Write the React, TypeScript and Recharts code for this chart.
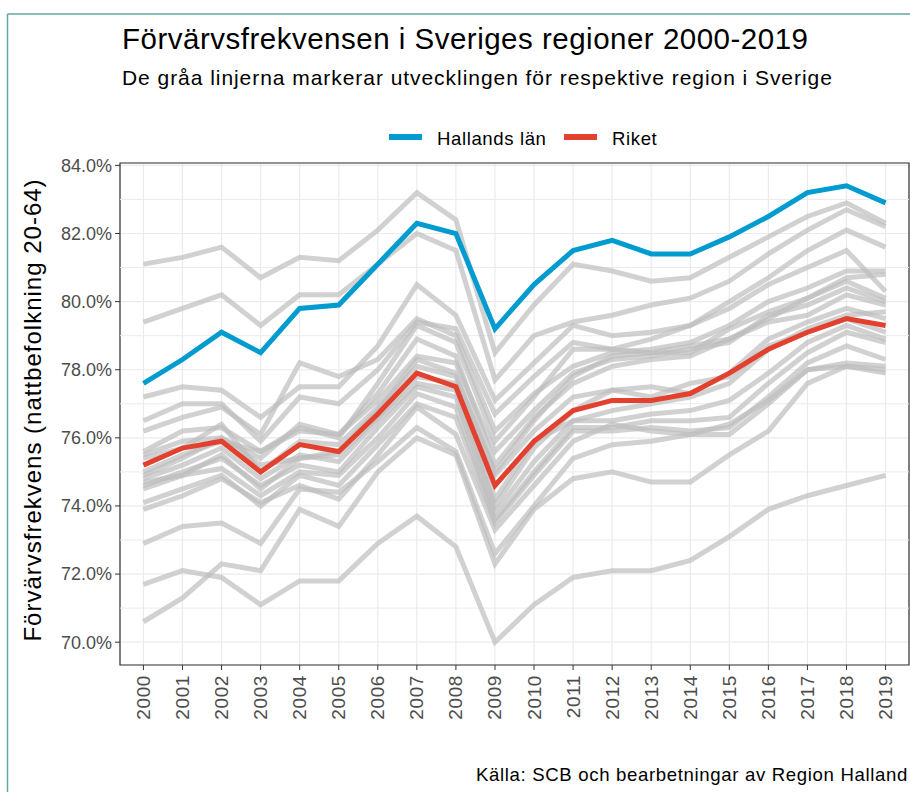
import React from "react";
import { LineChart, Line, XAxis, YAxis, CartesianGrid, ReferenceLine, ReferenceArea } from "recharts";

// ---- Data ----
const YEARS = [2000, 2001, 2002, 2003, 2004, 2005, 2006, 2007, 2008, 2009, 2010, 2011, 2012, 2013, 2014, 2015, 2016, 2017, 2018, 2019];

const HALLAND = [77.6, 78.3, 79.1, 78.5, 79.8, 79.9, 81.1, 82.3, 82.0, 79.2, 80.5, 81.5, 81.8, 81.4, 81.4, 81.9, 82.5, 83.2, 83.4, 82.9];
const RIKET = [75.2, 75.7, 75.9, 75.0, 75.8, 75.6, 76.7, 77.9, 77.5, 74.6, 75.9, 76.8, 77.1, 77.1, 77.3, 77.9, 78.6, 79.1, 79.5, 79.3];

const REGION_A = [81.1, 81.3, 81.6, 80.7, 81.3, 81.2, 82.1, 83.2, 82.4, 78.5, 79.9, 81.1, 80.9, 80.6, 80.7, 81.3, 81.9, 82.5, 82.9, 82.3];
const REGION_B = [79.4, 79.8, 80.2, 79.3, 80.2, 80.2, 81.1, 82.0, 81.5, 77.7, 79.0, 79.4, 79.6, 79.9, 80.1, 80.6, 81.4, 82.1, 82.7, 82.2];
const REGION_C = [77.2, 77.5, 77.4, 76.6, 77.5, 77.5, 78.7, 80.5, 79.6, 77.1, 78.2, 79.3, 79.0, 79.1, 79.3, 80.0, 80.7, 81.5, 82.1, 81.6];
const REGION_D = [76.5, 77.0, 77.0, 75.9, 77.2, 77.0, 78.0, 79.4, 79.2, 76.7, 77.8, 78.8, 78.6, 78.9, 79.3, 79.8, 80.5, 81.0, 81.5, 80.3];
const REGION_E = [76.2, 76.6, 76.9, 76.1, 78.2, 77.8, 78.3, 79.5, 79.0, 76.2, 77.3, 78.1, 78.5, 78.6, 78.8, 79.3, 80.0, 80.4, 80.9, 80.9];
const REGION_F = [75.6, 76.2, 76.3, 75.6, 76.3, 76.0, 77.6, 79.3, 78.8, 75.9, 77.2, 78.6, 78.6, 78.5, 78.5, 79.2, 79.7, 80.1, 80.7, 80.8];
const REGION_G = [75.5, 75.9, 76.0, 75.4, 76.4, 76.1, 77.1, 78.4, 78.2, 75.6, 76.8, 77.9, 78.3, 78.4, 78.6, 78.8, 79.6, 79.9, 80.4, 80.0];
const REGION_H = [75.4, 75.7, 76.4, 75.0, 75.9, 75.8, 76.9, 78.1, 77.8, 75.0, 76.5, 77.8, 78.4, 78.5, 78.7, 78.9, 79.4, 79.6, 80.2, 79.9];
const REGION_I = [74.9, 75.4, 76.0, 75.2, 75.4, 75.5, 76.6, 77.8, 77.6, 74.2, 75.9, 76.5, 76.8, 77.0, 77.2, 77.6, 78.6, 79.2, 79.6, 79.7];
const REGION_J = [74.8, 75.2, 75.7, 74.8, 75.5, 75.3, 76.5, 77.6, 77.4, 74.0, 75.7, 76.8, 77.4, 77.2, 77.6, 77.8, 78.7, 79.1, 79.5, 79.1];
const REGION_K = [74.6, 75.0, 75.4, 74.6, 75.2, 75.0, 76.3, 77.5, 77.2, 73.8, 75.3, 76.5, 76.5, 76.7, 76.8, 77.1, 77.9, 78.8, 79.3, 78.9];
const REGION_L = [74.5, 74.9, 75.1, 74.3, 75.0, 74.9, 76.0, 77.3, 76.9, 73.6, 75.0, 76.3, 76.3, 76.5, 76.5, 76.6, 77.6, 78.5, 79.1, 78.8];
const REGION_M = [74.1, 74.5, 74.9, 74.0, 74.9, 74.6, 75.8, 77.0, 76.6, 73.5, 74.9, 76.2, 76.2, 76.3, 76.2, 76.3, 77.2, 78.2, 78.7, 78.3];
const REGION_N = [73.9, 74.3, 74.8, 74.1, 74.6, 74.2, 75.5, 76.9, 76.1, 73.3, 74.6, 75.9, 76.4, 76.2, 76.1, 76.1, 77.0, 78.0, 78.2, 78.1];
const REGION_O = [72.9, 73.4, 73.5, 72.9, 74.5, 74.4, 75.3, 76.3, 75.6, 72.6, 74.0, 75.4, 75.8, 75.9, 76.1, 76.4, 77.1, 78.0, 78.1, 78.0];
const REGION_P = [71.7, 72.1, 71.9, 71.1, 71.8, 71.8, 72.9, 73.7, 72.8, 70.0, 71.1, 71.9, 72.1, 72.1, 72.4, 73.1, 73.9, 74.3, 74.6, 74.9];
const REGION_Q = [70.6, 71.3, 72.3, 72.1, 73.9, 73.4, 75.0, 76.0, 75.5, 72.3, 73.9, 74.8, 75.0, 74.7, 74.7, 75.5, 76.2, 77.6, 78.1, 77.9];
const REGION_R = [75.0, 75.5, 75.9, 75.6, 76.2, 76.1, 77.3, 78.9, 78.4, 75.2, 76.6, 77.6, 78.1, 78.3, 78.4, 78.9, 79.5, 80.1, 80.6, 80.1];
const REGION_S = [74.7, 74.9, 75.5, 74.5, 75.4, 75.6, 76.8, 78.3, 77.9, 74.9, 76.2, 77.2, 77.4, 77.5, 77.3, 77.9, 78.9, 79.4, 79.8, 79.5];

const GRAY_REGIONS = [
  REGION_A, REGION_B, REGION_C, REGION_D, REGION_E, REGION_F, REGION_G, REGION_H, REGION_I, REGION_J,
  REGION_K, REGION_L, REGION_M, REGION_N, REGION_O, REGION_P, REGION_Q, REGION_R, REGION_S,
];

const Y_TICKS = [70, 72, 74, 76, 78, 80, 82, 84];
const Y_MINOR = [71, 73, 75, 77, 79, 81, 83];

const TITLE = "Förvärvsfrekvensen i Sveriges regioner 2000-2019";
const SUBTITLE = "De gråa linjerna markerar utvecklingen för respektive region i Sverige";
const Y_LABEL = "Förvärvsfrekvens (nattbefolkning 20-64)";
const CAPTION = "Källa: SCB och bearbetningar av Region Halland";
const LEGEND_ITEMS = [
  { name: "Hallands län", color: "#009BCF" },
  { name: "Riket", color: "#E2412F" },
];

const data = YEARS.map((year, i) => {
  const row: Record<string, number> = { year, halland: HALLAND[i], riket: RIKET[i] };
  GRAY_REGIONS.forEach((s, j) => {
    row[`r${j}`] = s[i];
  });
  return row;
});

const FONT = "'Liberation Sans', Arial, sans-serif";

const XTick = (props: any) => {
  const { x, y, payload } = props;
  return (
    <text
      transform={`translate(${x},${y + 3}) rotate(-90)`}
      textAnchor="end"
      dominantBaseline="central"
      fill="#4d4d4d"
      fontSize={19}
      letterSpacing={0.6}
      fontFamily={FONT}
    >
      {payload.value}
    </text>
  );
};

export default function App() {
  return (
    <div style={{ position: "relative", width: 910, height: 792, background: "#fff", fontFamily: FONT, overflow: "hidden" }}>
      <style>{"body{margin:0}"}</style>
      <LineChart
        width={910}
        height={792}
        data={data}
        margin={{ top: 163, right: 1, bottom: 0, left: 50 }}
        style={{ position: "absolute", left: 0, top: 0 }}
      >
        <CartesianGrid stroke="#ebebeb" strokeWidth={1.2} />
        {Y_MINOR.map((v) => (
          <ReferenceLine key={v} y={v} stroke="#ebebeb" strokeWidth={1} />
        ))}
        <XAxis
          dataKey="year"
          type="number"
          domain={[1999.4, 2019.6]}
          ticks={YEARS}
          interval={0}
          allowDataOverflow
          height={127}
          axisLine={false}
          tickSize={5}
          tickLine={{ stroke: "#333333" }}
          tick={<XTick />}
        />
        <YAxis
          type="number"
          domain={[69.33, 84.07]}
          ticks={Y_TICKS}
          allowDataOverflow
          width={70}
          axisLine={false}
          tickSize={5}
          tickMargin={3}
          tickLine={{ stroke: "#333333" }}
          tickFormatter={(v: number) => `${v.toFixed(1)}%`}
          tick={{ fill: "#4d4d4d", fontSize: 18, fontFamily: FONT }}
        />
        {GRAY_REGIONS.map((_, j) => (
          <Line
            key={j}
            dataKey={`r${j}`}
            stroke="#bdbdbd"
            strokeOpacity={0.7}
            strokeWidth={5}
            dot={false}
            activeDot={false}
            isAnimationActive={false}
          />
        ))}
        <Line dataKey="riket" name="Riket" stroke="#E2412F" strokeWidth={5} dot={false} activeDot={false} isAnimationActive={false} />
        <Line dataKey="halland" name="Hallands län" stroke="#009BCF" strokeWidth={5} dot={false} activeDot={false} isAnimationActive={false} />
        <ReferenceArea x1={1999.4} x2={2019.6} y1={69.33} y2={84.07} fill="none" stroke="#333333" strokeWidth={1.2} ifOverflow="visible" />
      </LineChart>
      <svg width={910} height={792} style={{ position: "absolute", left: 0, top: 0, pointerEvents: "none" }}>
        <line x1={7.5} y1={14} x2={910} y2={14} stroke="#5fa8a3" strokeWidth={1.5} />
        <line x1={7.5} y1={14} x2={7.5} y2={792} stroke="#5fa8a3" strokeWidth={1.5} />
        <text x={122} y={48.5} fontSize={29.5} letterSpacing={0.5} fill="#000" fontFamily={FONT}>{TITLE}</text>
        <text x={122} y={85} fontSize={21} letterSpacing={0.95} fill="#000" fontFamily={FONT}>{SUBTITLE}</text>
        <line x1={389} y1={137} x2={422} y2={137} stroke={LEGEND_ITEMS[0].color} strokeWidth={6} />
        <text x={437} y={145} fontSize={18.6} letterSpacing={0.6} fill="#000" fontFamily={FONT}>{LEGEND_ITEMS[0].name}</text>
        <line x1={564} y1={137} x2={597} y2={137} stroke={LEGEND_ITEMS[1].color} strokeWidth={6} />
        <text x={612} y={145} fontSize={18.6} letterSpacing={0.6} fill="#000" fontFamily={FONT}>{LEGEND_ITEMS[1].name}</text>
        <text
          transform="translate(41,410) rotate(-90)"
          textAnchor="middle"
          fontSize={24}
          letterSpacing={1}
          fill="#000"
          fontFamily={FONT}
        >
          {Y_LABEL}
        </text>
        <text x={908} y={781} textAnchor="end" fontSize={18.6} letterSpacing={0.65} fill="#000" fontFamily={FONT}>{CAPTION}</text>
      </svg>
    </div>
  );
}
